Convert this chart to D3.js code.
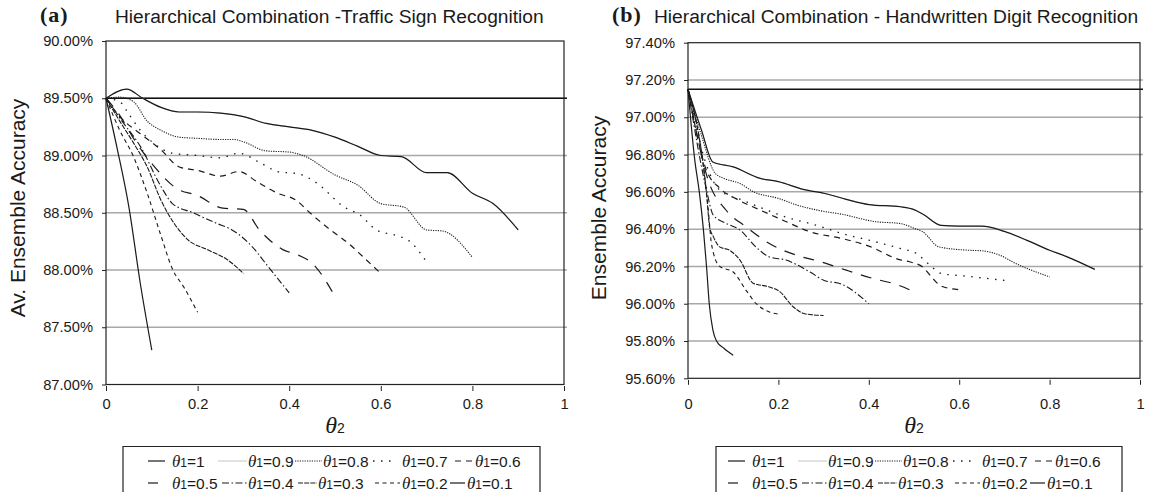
<!DOCTYPE html>
<html>
<head>
<meta charset="utf-8">
<script src="https://cdnjs.cloudflare.com/ajax/libs/d3/7.8.5/d3.min.js"></script>
<style>
body{margin:0;background:#fff;}
text{font-family:"Liberation Sans",Arial,sans-serif;fill:#1a1a1a;}
</style>
</head>
<body>
<svg id="chart" width="1151" height="492"></svg>
<script>
// theta1 values, one series each (legend order)
var thetaLabels = ["1","0.9","0.8","0.7","0.6","0.5","0.4","0.3","0.2","0.1"];

// (a) traffic sign recognition, [theta2, accuracy %]
var traffic_10 = [[0,89.50],[0.045,89.58],[0.08,89.50],[0.12,89.42],[0.16,89.38],[0.2,89.38],[0.25,89.37],[0.3,89.34],[0.35,89.28],[0.4,89.25],[0.45,89.22],[0.5,89.16],[0.55,89.08],[0.6,89.00],[0.645,88.99],[0.7,88.85],[0.745,88.85],[0.8,88.67],[0.845,88.58],[0.9,88.35]];
var traffic_09 = [[0,89.50],[0.045,89.58],[0.08,89.50],[0.12,89.42],[0.16,89.38],[0.2,89.38],[0.25,89.37],[0.3,89.34],[0.35,89.28],[0.4,89.25],[0.45,89.22],[0.5,89.16],[0.55,89.08],[0.6,89.00],[0.645,88.99],[0.7,88.85],[0.745,88.85],[0.8,88.67],[0.845,88.58],[0.9,88.35]];
var traffic_08 = [[0,89.50],[0.03,89.51],[0.06,89.47],[0.09,89.30],[0.12,89.22],[0.16,89.16],[0.2,89.15],[0.25,89.14],[0.28,89.14],[0.3,89.12],[0.35,89.04],[0.4,89.03],[0.43,89.00],[0.5,88.83],[0.55,88.74],[0.6,88.58],[0.65,88.55],[0.7,88.35],[0.735,88.34],[0.8,88.11]];
var traffic_07 = [[0,89.50],[0.03,89.47],[0.05,89.36],[0.075,89.22],[0.1,89.12],[0.145,89.02],[0.2,89.00],[0.25,88.98],[0.29,89.02],[0.335,88.94],[0.375,88.86],[0.42,88.84],[0.46,88.76],[0.52,88.55],[0.555,88.48],[0.59,88.35],[0.635,88.30],[0.66,88.26],[0.7,88.07]];
var traffic_06 = [[0,89.50],[0.03,89.34],[0.075,89.19],[0.12,89.05],[0.16,88.90],[0.2,88.87],[0.25,88.82],[0.29,88.86],[0.33,88.77],[0.375,88.67],[0.415,88.61],[0.445,88.50],[0.49,88.35],[0.53,88.23],[0.56,88.12],[0.6,87.97]];
var traffic_05 = [[0,89.50],[0.03,89.35],[0.06,89.15],[0.1,88.93],[0.155,88.71],[0.2,88.65],[0.255,88.54],[0.3,88.53],[0.335,88.35],[0.385,88.18],[0.42,88.13],[0.45,88.06],[0.5,87.77]];
var traffic_04 = [[0,89.50],[0.035,89.30],[0.075,89.08],[0.12,88.73],[0.145,88.58],[0.19,88.50],[0.24,88.41],[0.275,88.35],[0.29,88.31],[0.32,88.20],[0.35,88.05],[0.4,87.80]];
var traffic_03 = [[0,89.50],[0.03,89.30],[0.06,89.11],[0.09,88.90],[0.12,88.61],[0.15,88.40],[0.18,88.26],[0.22,88.18],[0.265,88.09],[0.3,87.97]];
var traffic_02 = [[0,89.50],[0.03,89.22],[0.06,88.99],[0.09,88.67],[0.12,88.30],[0.146,88.00],[0.17,87.85],[0.2,87.63]];
var traffic_01 = [[0,89.50],[0.025,89.05],[0.05,88.55],[0.075,87.88],[0.1,87.30]];

// (b) handwritten digit recognition
var digit_10 = [[0,97.15],[0.03,96.93],[0.055,96.76],[0.1,96.734],[0.16,96.672],[0.2,96.655],[0.255,96.613],[0.305,96.59],[0.35,96.56],[0.4,96.532],[0.47,96.52],[0.5,96.505],[0.52,96.48],[0.56,96.42],[0.6,96.416],[0.65,96.416],[0.7,96.388],[0.75,96.34],[0.8,96.287],[0.835,96.255],[0.9,96.184]];
var digit_09 = [[0,97.15],[0.03,96.93],[0.055,96.76],[0.1,96.734],[0.16,96.672],[0.2,96.655],[0.255,96.613],[0.305,96.59],[0.35,96.56],[0.4,96.532],[0.47,96.52],[0.5,96.505],[0.52,96.48],[0.56,96.42],[0.6,96.416],[0.65,96.416],[0.7,96.388],[0.75,96.34],[0.8,96.287],[0.835,96.255],[0.9,96.184]];
var digit_08 = [[0,97.15],[0.03,96.90],[0.06,96.70],[0.08,96.672],[0.115,96.645],[0.145,96.60],[0.2,96.565],[0.24,96.53],[0.29,96.50],[0.34,96.48],[0.415,96.44],[0.47,96.43],[0.5,96.405],[0.52,96.385],[0.555,96.305],[0.62,96.287],[0.65,96.284],[0.69,96.26],[0.725,96.216],[0.8,96.144]];
var digit_07 = [[0,97.15],[0.04,96.75],[0.07,96.61],[0.12,96.556],[0.165,96.511],[0.215,96.466],[0.285,96.42],[0.34,96.377],[0.415,96.332],[0.47,96.296],[0.505,96.27],[0.535,96.207],[0.56,96.162],[0.615,96.148],[0.7,96.125]];
var digit_06 = [[0,97.15],[0.04,96.72],[0.07,96.62],[0.105,96.565],[0.16,96.502],[0.21,96.448],[0.27,96.386],[0.34,96.35],[0.4,96.309],[0.47,96.235],[0.49,96.225],[0.52,96.195],[0.54,96.14],[0.56,96.095],[0.6,96.075]];
var digit_05 = [[0,97.15],[0.045,96.66],[0.085,96.50],[0.13,96.41],[0.18,96.323],[0.24,96.26],[0.295,96.224],[0.35,96.18],[0.41,96.135],[0.465,96.10],[0.5,96.064]];
var digit_04 = [[0,97.15],[0.04,96.62],[0.056,96.475],[0.085,96.43],[0.115,96.395],[0.15,96.305],[0.18,96.251],[0.217,96.234],[0.27,96.17],[0.3,96.126],[0.34,96.105],[0.4,96.0]];
var digit_03 = [[0,97.15],[0.041,96.59],[0.048,96.41],[0.056,96.36],[0.07,96.305],[0.092,96.287],[0.115,96.234],[0.144,96.11],[0.18,96.09],[0.203,96.065],[0.232,95.985],[0.26,95.945],[0.3,95.937]];
var digit_02 = [[0,97.15],[0.037,96.68],[0.045,96.50],[0.052,96.32],[0.07,96.20],[0.1,96.17],[0.129,96.07],[0.151,96.00],[0.18,95.956],[0.2,95.944]];
var digit_01 = [[0,97.15],[0.015,96.77],[0.025,96.60],[0.034,96.40],[0.041,96.20],[0.047,96.00],[0.055,95.86],[0.063,95.80],[0.08,95.76],[0.1,95.724]];

var trafficTicks = [87, 87.5, 88, 88.5, 89, 89.5, 90];
var digitTicks = [95.6, 95.8, 96.0, 96.2, 96.4, 96.6, 96.8, 97.0, 97.2, 97.4];
var xTicks = [0, 0.2, 0.4, 0.6, 0.8, 1];
var trafficBase = 89.5;
var digitBase = 97.15;

var traffic = [traffic_10, traffic_09, traffic_08, traffic_07, traffic_06, traffic_05, traffic_04, traffic_03, traffic_02, traffic_01];
var digit = [digit_10, digit_09, digit_08, digit_07, digit_06, digit_05, digit_04, digit_03, digit_02, digit_01];

// line looks, same order as thetaLabels
var lineStyles = [
  {color:"#1a1a1a", dash:null, w:1.2},
  {color:"#c4c4c4", dash:null, w:1},
  {color:"#1a1a1a", dash:"1.2,1.2", w:1.1},
  {color:"#1a1a1a", dash:"1.5,6.5", w:1.3},
  {color:"#1a1a1a", dash:"6,5", w:1.2},
  {color:"#1a1a1a", dash:"11,9", w:1.2},
  {color:"#1a1a1a", dash:"7,2.5,1.5,2.5", w:1.1},
  {color:"#1a1a1a", dash:"5,1.2", w:1.1},
  {color:"#1a1a1a", dash:"4,3.5", w:1.1},
  {color:"#1a1a1a", dash:null, w:1.2}
];

// legend sample/text offsets from the first sample, rows of five
var legendSpots = [
  [0,17,24],[70,99,100],[147,174,175],[225,245,254],[307,324,327],
  [0,10,24],[74,99,100],[150,169,170],[227,252,254],[302,317,319]
];

var svg = d3.select("#chart");

drawPanel({
  tag:"(a)", tagX:40, title:"Hierarchical Combination -Traffic Sign Recognition", titleX:115,
  ylabel:"Av. Ensemble Accuracy", ylabelX:25,
  left:106, right:564, top:41, bottom:384.5,
  ticks:trafficTicks, base:trafficBase, series:traffic,
  legL:123, legR:540, legStart:148
});
drawPanel({
  tag:"(b)", tagX:612, title:"Hierarchical Combination - Handwritten Digit Recognition", titleX:654,
  ylabel:"Ensemble Accuracy", ylabelX:606,
  left:688, right:1140, top:42.7, bottom:378.3,
  ticks:digitTicks, base:digitBase, series:digit,
  legL:716, legR:1122, legStart:728
});

function drawPanel(p){
  var g = svg.append("g");
  var x = d3.scaleLinear().domain([0,1]).range([p.left, p.right]);
  var y = d3.scaleLinear().domain([p.ticks[0], p.ticks[p.ticks.length-1]]).range([p.bottom, p.top]);

  // grid
  g.selectAll(".grid").data(p.ticks.slice(1, -1)).enter().append("line")
    .attr("x1", p.left).attr("x2", p.right+3)
    .attr("y1", function(d){return y(d);}).attr("y2", function(d){return y(d);})
    .attr("stroke", "#a8a8a8").attr("stroke-width", 1.5);

  // reference level
  g.append("line")
    .attr("x1", p.left).attr("x2", p.right+3)
    .attr("y1", y(p.base)).attr("y2", y(p.base))
    .attr("stroke", "#111").attr("stroke-width", 1.4);

  // frame
  g.append("rect")
    .attr("x", p.left).attr("y", p.top)
    .attr("width", p.right-p.left).attr("height", p.bottom-p.top)
    .attr("fill", "none").attr("stroke", "#222").attr("stroke-width", 1.2);

  var line = d3.line()
    .x(function(d){return x(d[0]);})
    .y(function(d){return y(d[1]);})
    .curve(d3.curveMonotoneX);

  // draw theta1=0.9 first so it sits underneath
  var order = [1,0,2,3,4,5,6,7,8,9];
  order.forEach(function(i){
    var s = lineStyles[i];
    g.append("path")
      .attr("d", line(p.series[i]))
      .attr("fill", "none")
      .attr("stroke", s.color)
      .attr("stroke-width", s.w)
      .attr("stroke-dasharray", s.dash);
  });

  // y axis
  var yAxis = g.append("g")
    .attr("transform", "translate(" + p.left + ",0)")
    .call(d3.axisLeft(y).tickValues(p.ticks).tickSize(4).tickPadding(9)
      .tickFormat(function(d){return d3.format(".2f")(d) + "%";}));
  yAxis.select(".domain").remove();
  yAxis.selectAll("line").attr("stroke", "#222");
  yAxis.selectAll("text").attr("font-size", 14.7).attr("font-family", null).attr("fill", "#1a1a1a");

  // x axis, labels sit on a common line under both panels
  var axisY = p.bottom + 1.5;
  var xAxis = g.append("g")
    .attr("transform", "translate(0," + axisY + ")")
    .call(d3.axisBottom(x).tickValues(xTicks).tickSize(5).tickPadding(408.5 - axisY - 5 - 10.4)
      .tickFormat(function(d){return d;}));
  xAxis.select(".domain").remove();
  xAxis.selectAll("line").attr("stroke", "#222");
  xAxis.selectAll("text").attr("font-size", 14.7).attr("font-family", null).attr("fill", "#1a1a1a");

  // theta2 label
  var xl = g.append("text").attr("x", (p.left+p.right)/2).attr("y", 433).attr("text-anchor", "middle");
  xl.append("tspan").text("θ").attr("font-family", "'Liberation Serif',serif").attr("font-style", "italic").attr("font-size", 24);
  xl.append("tspan").text("2").attr("font-size", 14);

  // y label
  g.append("text")
    .attr("transform", "translate(" + p.ylabelX + ",208) rotate(-90)")
    .attr("text-anchor", "middle")
    .attr("font-size", 21)
    .text(p.ylabel);

  // titles
  g.append("text").attr("x", p.tagX).attr("y", 22)
    .attr("font-weight", "bold")
    .attr("font-size", 22).attr("letter-spacing", 1).style("font-family", "'Liberation Serif',serif")
    .text(p.tag);
  g.append("text").attr("x", p.titleX).attr("y", 22.5)
    .attr("font-size", 19.2)
    .text(p.title);

  // legend box (bottom runs off the page)
  g.append("path")
    .attr("d", "M" + p.legL + ",500V446.5H" + p.legR + "V500")
    .attr("fill", "none").attr("stroke", "#222").attr("stroke-width", 1.2);

  thetaLabels.forEach(function(lab, i){
    var spot = legendSpots[i];
    var rowY = i < 5 ? 461 : 483;
    var s = lineStyles[i];
    g.append("line")
      .attr("x1", p.legStart + spot[0]).attr("x2", p.legStart + spot[1])
      .attr("y1", rowY).attr("y2", rowY)
      .attr("stroke", s.color).attr("stroke-width", s.w)
      .attr("stroke-dasharray", s.dash);
    var t = g.append("text").attr("x", p.legStart + spot[2]).attr("y", rowY + 5.5);
    t.append("tspan").text("θ").attr("font-family", "'Liberation Serif',serif").attr("font-style", "italic").attr("font-size", 17);
    t.append("tspan").text("1").attr("font-size", 12);
    t.append("tspan").text("=" + lab).attr("font-size", 15.5);
  });
}
</script>
</body>
</html>
